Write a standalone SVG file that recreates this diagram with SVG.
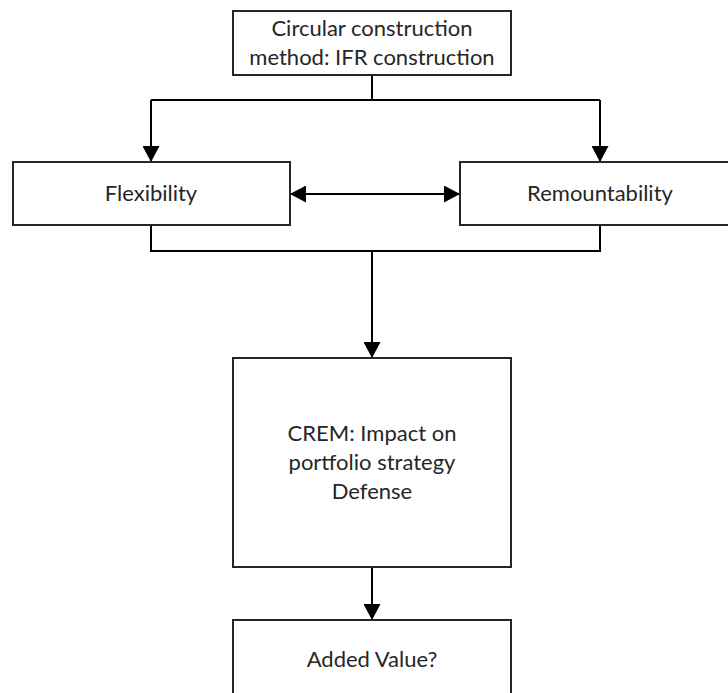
<svg xmlns="http://www.w3.org/2000/svg" width="728" height="693" viewBox="0 0 728 693">
  <style>
    .box { fill: #ffffff; stroke: #262626; stroke-width: 2; }
    .lbl { font-family: Lato, "Open Sans", "Liberation Sans", sans-serif; font-size: 22px; fill: #262626; text-anchor: middle; }
    .wire { fill: none; stroke: #000000; stroke-width: 2; }
  </style>
  <defs>
    <marker id="arrow" viewBox="0 0 16 17" refX="16" refY="8.5" markerWidth="16" markerHeight="17" markerUnits="userSpaceOnUse" orient="auto-start-reverse">
      <path d="M0,0 L16,8.5 L0,17 Z" fill="#000000"/>
    </marker>
  </defs>

  <!-- connectors -->
  <g id="connectors">
    <path class="wire" d="M372,75 V100"/>
    <path class="wire" d="M151,100 H600"/>
    <path class="wire" d="M151,100 V162" marker-end="url(#arrow)"/>
    <path class="wire" d="M600,100 V162" marker-end="url(#arrow)"/>
    <path class="wire" d="M290,194 H460" marker-start="url(#arrow)" marker-end="url(#arrow)"/>
    <path class="wire" d="M151,225 V251 H600 V225"/>
    <path class="wire" d="M372,251 V358" marker-end="url(#arrow)"/>
    <path class="wire" d="M372,567 V620" marker-end="url(#arrow)"/>
  </g>

  <!-- nodes -->
  <g id="node-method">
    <rect class="box" x="233" y="11" width="278" height="64"/>
    <text class="lbl" x="372" y="36">Circular construction</text>
    <text class="lbl" x="372" y="65">method: IFR construction</text>
  </g>

  <g id="node-flexibility">
    <rect class="box" x="13" y="162" width="277" height="63"/>
    <text class="lbl" x="151" y="201">Flexibility</text>
  </g>

  <g id="node-remountability">
    <rect class="box" x="460" y="162" width="280" height="63"/>
    <text class="lbl" x="600" y="201">Remountability</text>
  </g>

  <g id="node-crem">
    <rect class="box" x="233" y="358" width="278" height="209"/>
    <text class="lbl" x="372" y="441">CREM: Impact on</text>
    <text class="lbl" x="372" y="470">portfolio strategy</text>
    <text class="lbl" x="372" y="499">Defense</text>
  </g>

  <g id="node-added-value">
    <rect class="box" x="233" y="620" width="278" height="90"/>
    <text class="lbl" x="372" y="667">Added Value?</text>
  </g>
</svg>
